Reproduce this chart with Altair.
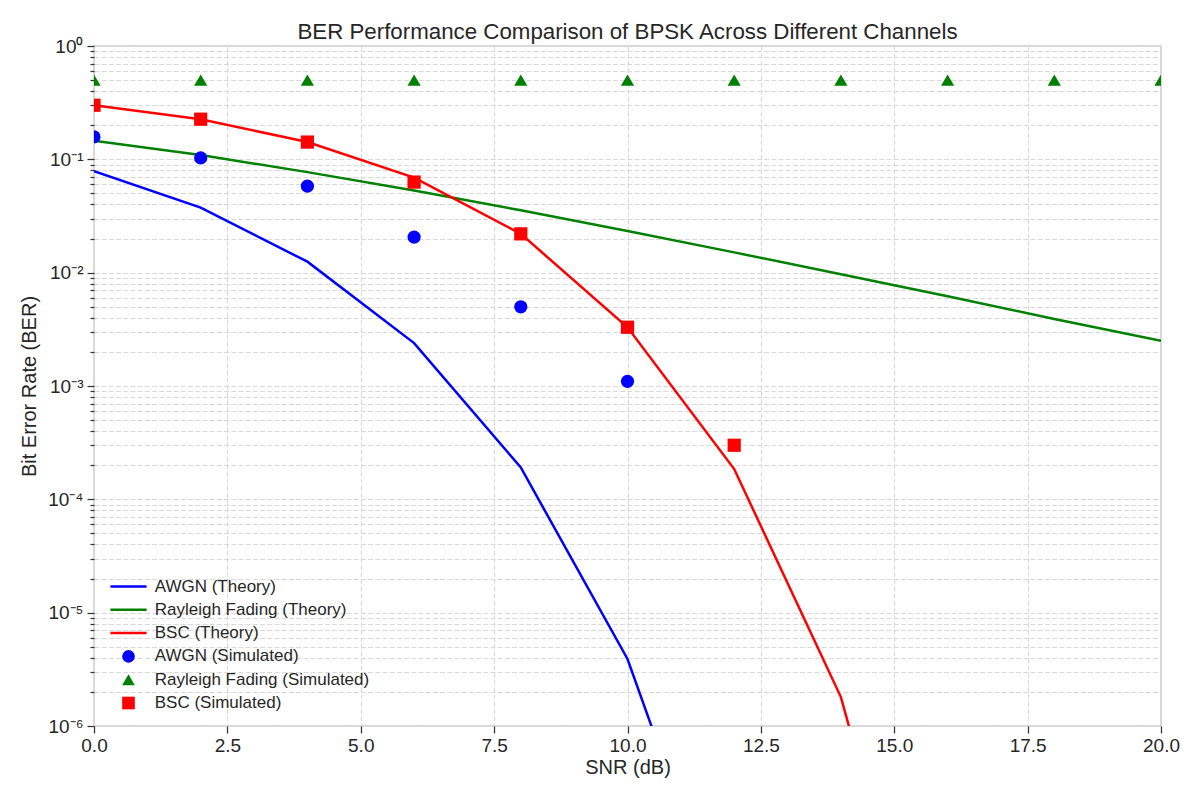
import altair as alt
import pandas as pd

snr_db = [0, 2, 4, 6, 8, 10, 12, 14, 16, 18, 20]

awgn_theory = [0.0786, 0.0375, 0.0125, 0.00239, 0.000191, 3.9e-6, 9e-9]
rayleigh_theory = [0.146, 0.109, 0.0771, 0.053, 0.0355, 0.0233, 0.0151, 0.0097, 0.0062, 0.0039, 0.0025]
bsc_theory = [0.30, 0.226, 0.142, 0.069, 0.022, 0.0033, 0.000185, 1.8e-6, 7e-10]

awgn_sim = [0.158, 0.103, 0.058, 0.0206, 0.0050, 0.0011]
rayleigh_sim = [0.50, 0.50, 0.50, 0.50, 0.50, 0.50, 0.50, 0.50, 0.50, 0.50, 0.50]
bsc_sim = [0.30, 0.226, 0.142, 0.063, 0.022, 0.0033, 0.00030]

series_names = [
    "AWGN (Theory)", "Rayleigh Fading (Theory)", "BSC (Theory)",
    "AWGN (Simulated)", "Rayleigh Fading (Simulated)", "BSC (Simulated)",
]
series_colors = ["#0000ff", "#008000", "#ff0000", "#0000ff", "#008000", "#ff0000"]
line_glyph = "M-2.86,-0.2H2.86V0.2H-2.86Z"
series_shapes = [line_glyph, line_glyph, line_glyph, "circle", "triangle-up", "square"]

x_ticks = [0, 2.5, 5, 7.5, 10, 12.5, 15, 17.5, 20]
y_ticks = [m * 10.0 ** k for k in range(-6, 0) for m in range(1, 10)] + [1.0]


def rows(name, values):
    return [{"snr": snr_db[i], "ber": v, "series": name} for i, v in enumerate(values)]


lines_df = pd.DataFrame(
    rows(series_names[0], awgn_theory)
    + rows(series_names[1], rayleigh_theory)
    + rows(series_names[2], bsc_theory)
)
points_df = pd.DataFrame(
    rows(series_names[3], awgn_sim)
    + rows(series_names[4], rayleigh_sim)
    + rows(series_names[5], bsc_sim)
)

exp_expr = "round(log(datum.value)/LN10)"
minor_test = f"abs(log(datum.value)/LN10 - {exp_expr}) > 0.01"
label_expr = (
    f"{minor_test} ? '' : "
    f"'10' + ({exp_expr} < 0 ? '⁻' : '') + "
    f"['⁰','¹','²','³','⁴','⁵','⁶','⁷'][abs({exp_expr})]"
)

x_enc = alt.X(
    "snr:Q",
    scale=alt.Scale(domain=[0, 20], nice=False, zero=False),
    axis=alt.Axis(title="SNR (dB)", values=x_ticks, format=".1f"),
)
y_enc = alt.Y(
    "ber:Q",
    scale=alt.Scale(type="log", domain=[1e-6, 1], nice=False),
    axis=alt.Axis(
        title="Bit Error Rate (BER)",
        values=y_ticks,
        labelExpr=label_expr,
        tickSize={"condition": {"test": minor_test, "value": 4}, "value": 7},
    ),
)

color_scale = alt.Scale(domain=series_names, range=series_colors)
shape_scale = alt.Scale(domain=series_names, range=series_shapes)

lines = alt.Chart(lines_df).mark_line(strokeWidth=2.5, clip=True).encode(
    x=x_enc,
    y=y_enc,
    color=alt.Color("series:N", scale=color_scale, legend=None),
    detail="series:N",
)

legend = alt.Legend(
    title=None,
    orient="none",
    legendX=26,
    legendY=532,
    padding=0,
    labelFontSize=17,
    labelFont="Liberation Sans",
    labelColor="#262626",
    labelOffset=17.7,
    labelLimit=0,
    rowPadding=5.3,
    symbolSize=160,
    symbolOpacity=1,
    symbolStrokeWidth=0,
)

points = alt.Chart(points_df).mark_point(filled=True, size=175, opacity=1, clip=True).encode(
    x=x_enc,
    y=y_enc,
    color=alt.Color("series:N", scale=color_scale, legend=legend, sort=series_names),
    shape=alt.Shape("series:N", scale=shape_scale, legend=legend, sort=series_names),
)

chart = (
    alt.layer(lines, points)
    .resolve_legend(color="independent", shape="independent")
    .properties(
        width=1067,
        height=680,
        title=alt.TitleParams(
            "BER Performance Comparison of BPSK Across Different Channels",
            fontSize=22.3,
            font="Liberation Sans",
            fontWeight="normal",
            color="#262626",
            anchor="middle",
            frame="group",
            offset=-6,
        ),
        autosize=alt.AutoSizeParams(type="none"),
        padding={"left": 94, "top": 46, "right": 39, "bottom": 74},
    )
    .configure(background="white", font="Liberation Sans")
    .configure_view(stroke="#cccccc", strokeWidth=1.5)
    .configure_axis(
        domain=False,
        grid=True,
        gridColor="#d9d9d9",
        gridDash=[5, 2.2],
        gridWidth=1,
        tickColor="#333333",
        tickWidth=1.25,
        tickSize=7,
        labelFont="Liberation Sans",
        labelFontSize=19,
        labelColor="#262626",
        labelPadding=3,
        titleFont="Liberation Sans",
        titleFontSize=20,
        titleFontWeight="normal",
        titleColor="#262626",
        titlePadding=2,
        labelFlush=False,
        labelOverlap=False,
    )
    .configure_axisY(labelPadding=4, titlePadding=8)
)

chart.save("out.html", embed_options={"renderer": "svg", "actions": False})
